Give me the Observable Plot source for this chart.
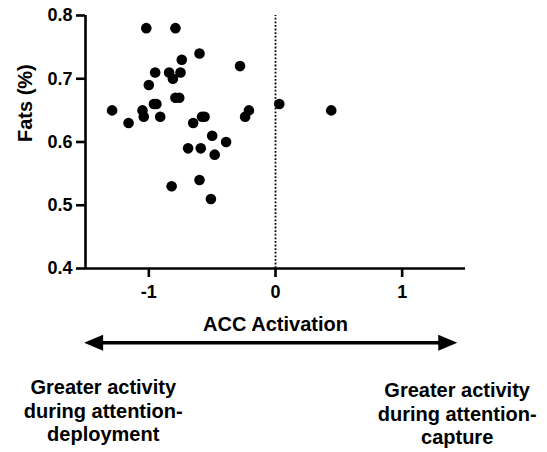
<!DOCTYPE html>
<html>
<head>
<meta charset="utf-8">
<script src="https://cdn.jsdelivr.net/npm/d3@7"></script>
<script src="https://cdn.jsdelivr.net/npm/@observablehq/plot@0.6"></script>
<style>
  html, body { margin: 0; padding: 0; background: #fff; }
</style>
</head>
<body>
<div id="chart"></div>
<script>
// ACC activation (x) and Fats % (y)
const accActivation = [
  -1.02, -0.79, -0.60, -0.74, -0.28, -0.95, -0.84, -0.75, -0.81, -1.00,
  -0.79, -0.76, -0.96, -0.94, -1.29, -1.05, -1.04, -0.91, -1.16, -0.65,
  -0.58, -0.56, -0.50, -0.39, -0.24, -0.21, 0.03, -0.69, -0.59, -0.48,
  -0.60, -0.82, -0.51, 0.44
];
const fats = [
  0.78, 0.78, 0.74, 0.73, 0.72, 0.71, 0.71, 0.71, 0.70, 0.69,
  0.67, 0.67, 0.66, 0.66, 0.65, 0.65, 0.64, 0.64, 0.63, 0.63,
  0.64, 0.64, 0.61, 0.60, 0.64, 0.65, 0.66, 0.59, 0.59, 0.58,
  0.54, 0.53, 0.51, 0.65
];
const xTicks = [-1, 0, 1];
const yTicks = [0.4, 0.5, 0.6, 0.7, 0.8];
const xDomain = [-1.5, 1.5];
const yDomain = [0.4, 0.8];
const referenceX = [0];
const arrowEnds = [-1.507, 1.439];
const leftNote = ["Greater activity\nduring attention-\ndeployment"];
const leftNoteX = [-1.36];
const rightNote = ["Greater activity\nduring attention-\ncapture"];
const rightNoteX = [1.434];

const points = accActivation.map((x, i) => ({x, y: fats[i]}));
const font = "'Liberation Sans', Arial, Helvetica, sans-serif";

const plot = Plot.plot({
  width: 547,
  height: 452,
  marginLeft: 85,
  marginRight: 82,
  marginTop: 15,
  marginBottom: 184,
  style: {fontFamily: font, fontWeight: "bold", color: "#000", background: "#fff", overflow: "visible"},
  x: {domain: xDomain, ticks: xTicks},
  y: {domain: yDomain, ticks: yTicks},
  marks: [
    Plot.ruleX(referenceX, {y1: yDomain[0], y2: yDomain[1], stroke: "#000", strokeWidth: 1.8, strokeDasharray: "1.8,1.8"}),
    Plot.axisX({ticks: xTicks, tickSize: 9, tickPadding: 8, strokeWidth: 2.6, fontSize: 18, label: null, tickFormat: d => d < 0 ? "-" + Math.abs(d) : String(d)}),
    Plot.axisY({ticks: yTicks, tickSize: 9, tickPadding: 4, strokeWidth: 2.6, fontSize: 18, label: null, tickFormat: d3.format(".1f")}),
    Plot.ruleY([yDomain[0]], {stroke: "#000", strokeWidth: 2.6}),
    Plot.ruleX([xDomain[0]], {stroke: "#000", strokeWidth: 2.6}),
    Plot.dot(points, {x: "x", y: "y", r: 5.3, fill: "#000", stroke: "none"}),
    Plot.text(["Fats (%)"], {frameAnchor: "left", dx: -60, rotate: -90, fontSize: 20, fontWeight: "bold", fill: "#000", lineAnchor: "middle"}),
    Plot.text(["ACC Activation"], {frameAnchor: "bottom", dy: 56, fontSize: 20, fontWeight: "bold", fill: "#000", lineAnchor: "middle"}),
    Plot.text(leftNote, {x: leftNoteX, frameAnchor: "bottom", dy: 109, lineAnchor: "top", lineHeight: 1.17, fontSize: 20, fontWeight: "bold", fill: "#000"}),
    Plot.text(rightNote, {x: rightNoteX, frameAnchor: "bottom", dy: 112, lineAnchor: "top", lineHeight: 1.17, fontSize: 20, fontWeight: "bold", fill: "#000"})
  ]
});

document.getElementById("chart").appendChild(plot);

// Double-headed arrow below the x axis, positioned with the plot's x scale
const sx = plot.scale("x");
const svg = d3.select(plot);
const xa = sx.apply(arrowEnds[0]);
const xb = sx.apply(arrowEnds[1]);
const ay = 342.7;
const headLen = 19, headHalf = 8;
const g = svg.append("g");
g.append("line")
  .attr("x1", xa + headLen - 1).attr("x2", xb - headLen + 1)
  .attr("y1", ay).attr("y2", ay)
  .attr("stroke", "#000").attr("stroke-width", 3.5);
g.append("path")
  .attr("d", `M${xa},${ay}L${xa + headLen},${ay - headHalf}L${xa + headLen},${ay + headHalf}Z`)
  .attr("fill", "#000");
g.append("path")
  .attr("d", `M${xb},${ay}L${xb - headLen},${ay - headHalf}L${xb - headLen},${ay + headHalf}Z`)
  .attr("fill", "#000");
</script>
</body>
</html>
